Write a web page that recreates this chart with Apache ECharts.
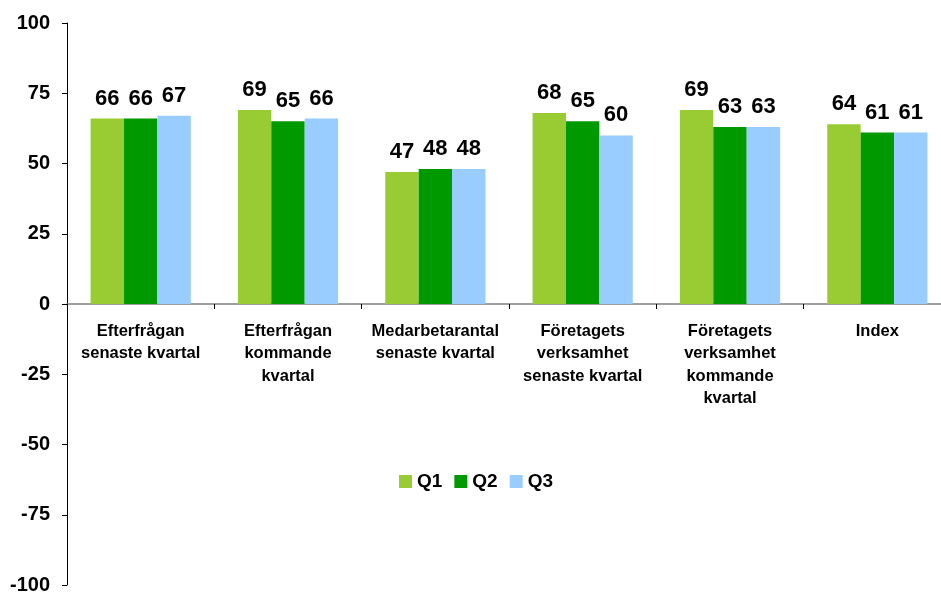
<!DOCTYPE html>
<html><head><meta charset="utf-8">
<script src="https://cdn.jsdelivr.net/npm/echarts@6/dist/echarts.min.js"></script>
<style>html,body{margin:0;padding:0;background:#fff}#c{width:941px;height:593px}</style>
</head><body><div id="c"></div>
<script>
const categories = ["Efterfrågan\nsenaste kvartal","Efterfrågan\nkommande\nkvartal","Medarbetarantal\nsenaste kvartal","Företagets\nverksamhet\nsenaste kvartal","Företagets\nverksamhet\nkommande\nkvartal","Index"];
const seriesNames = ["Q1","Q2","Q3"];
const q1 = [66,69,47,68,69,64];
const q2 = [66,65,48,65,63,61];
const q3 = [67,66,48,60,63,61];
const yTicks = [-100,-75,-50,-25,0,25,50,75,100];
const colors = ["#99CC33","#009900","#99CCFF"];
const font = "Arial, 'Liberation Sans', sans-serif";
const chart = echarts.init(document.getElementById('c'));
const data = [q1,q2,q3];
chart.setOption({
  animation:false,
  grid:{left:67,right:-10,top:23,bottom:8,containLabel:false,outerBoundsMode:'none'},
  legend:{data:seriesNames,top:467,left:394,itemWidth:13,itemHeight:13,itemGap:12,icon:'rect',
    textStyle:{fontFamily:font,fontWeight:'bold',fontSize:19,color:'#000'}},
  xAxis:{type:'category',data:categories,position:'bottom',offset:-281,
    axisLine:{onZero:false,lineStyle:{color:'#808080',width:1.5}},
    axisTick:{show:true,length:5,lineStyle:{color:'#000'}},
    axisLabel:{interval:0,margin:16,fontFamily:font,fontWeight:'bold',fontSize:16.5,lineHeight:22.5,color:'#000'}},
  yAxis:{type:'value',min:yTicks[0],max:yTicks[yTicks.length-1],interval:25,
    splitLine:{show:false},
    axisLine:{show:true,lineStyle:{color:'#000'}},
    axisTick:{show:true,length:5,lineStyle:{color:'#000'}},
    axisLabel:{margin:17,fontFamily:font,fontWeight:'bold',fontSize:20,color:'#000'}},
  series:seriesNames.map((n,i)=>({name:n,type:'bar',data:data[i],barGap:'0%',barCategoryGap:'32%',
    itemStyle:{color:colors[i]},
    label:{show:true,position:'top',distance:9,fontFamily:font,fontWeight:'bold',fontSize:22,color:'#000'}}))
});
</script></body></html>
